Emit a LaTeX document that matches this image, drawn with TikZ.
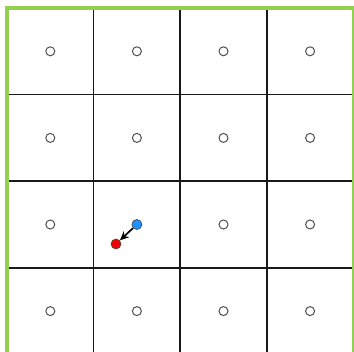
\documentclass[tikz,border=0pt]{standalone}
\usetikzlibrary{arrows.meta}
\definecolor{bordergreen}{RGB}{146,208,80}
\definecolor{gridgray}{RGB}{25,25,25}
\definecolor{ringgray}{RGB}{80,80,80}
\definecolor{dotblue}{RGB}{30,144,255}
\definecolor{dotred}{RGB}{240,0,0}
\tikzset{
  ring/.style={circle, draw=ringgray, line width=1pt, minimum size=9pt, inner sep=0pt},
  dot/.style={circle, draw=black!70, line width=0.7pt, minimum size=10pt, inner sep=0pt},
  gridline/.style={draw=gridgray, line width=1.5pt},
  frame/.style={draw=bordergreen, line width=3.5pt},
  move/.style={-{Stealth[length=9pt,width=8pt]}, line width=1.7pt, black}
}
\begin{document}
\begin{tikzpicture}[x=1pt,y=-1pt]
\useasboundingbox (0,0) rectangle (354,352);
\clip (0,0) rectangle (354,352);
\def\L{7}\def\T{8}\def\S{86.6}
% inner grid lines
\foreach \i in {1,2,3}{
  \draw[gridline] ({\L+\i*\S},\T) -- ({\L+\i*\S},{\T+4*\S});
  \draw[gridline] (\L,{\T+\i*\S}) -- ({\L+4*\S},{\T+\i*\S});
}
% green frame
\draw[frame] (\L,\T) rectangle ({\L+4*\S},{\T+4*\S});
% rings
\foreach \r in {0,1,2,3}{
  \foreach \c in {0,1,2,3}{
    \pgfmathtruncatemacro{\skip}{(\r==2)&&(\c==1)}
    \ifnum\skip=0
      \node[ring] (c\r\c) at ({\L+(\c+0.5)*\S},{\T+(\r+0.5)*\S}) {};
    \fi
  }
}
% moving point
\node[dot, fill=dotblue] (blue) at ({\L+1.5*\S},{\T+2.5*\S}) {};
\node[dot, fill=dotred] (red) at (116,244) {};
\draw[move] (blue) -- (red);
\end{tikzpicture}
\end{document}
